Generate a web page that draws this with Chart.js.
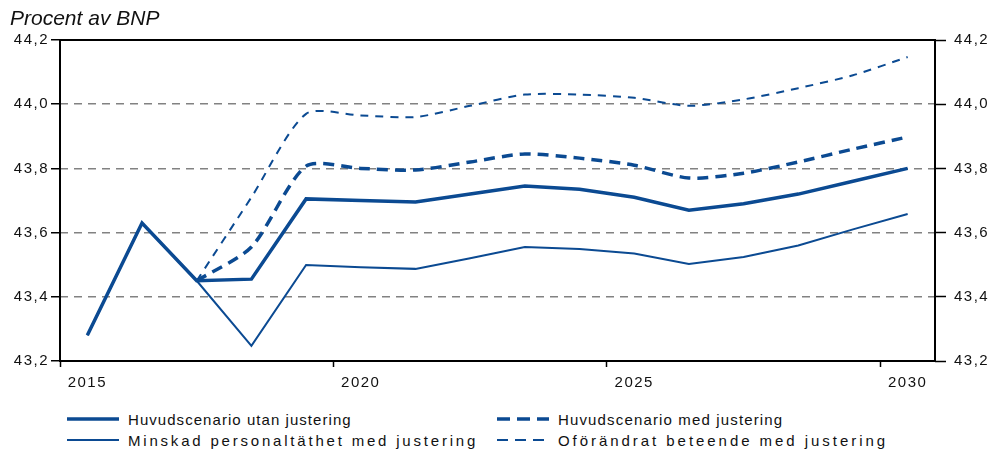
<!DOCTYPE html>
<html>
<head>
<meta charset="utf-8">
<script src="https://cdn.jsdelivr.net/npm/chart.js@4.4.1/dist/chart.umd.min.js"></script>
<style>
    body { margin: 0; background: #fff; font-family: "Liberation Sans", Arial, sans-serif; }
    #wrap { position: relative; width: 992px; height: 454px; }
    #title { position: absolute; left: 10px; top: 6px; font-size: 21px; font-style: italic; color: #111; }
    #chart-box { position: absolute; left: 0; top: 0; width: 992px; height: 400px; }
    .legend-item { position: absolute; display: flex; align-items: center; font-size: 15px; color: #111; white-space: nowrap; }
    .legend-item svg { margin-right: 9px; }
</style>
</head>
<body>
<div id="wrap">
    <div id="chart-box"><canvas id="chart"></canvas></div>
    <div id="title">Procent av BNP</div>
    <div id="legend"></div>
</div>
<script>
const BLUE = '#0b4a92';

const years = ['2015', '2016', '2017', '2018', '2019', '2020', '2021', '2022',
               '2023', '2024', '2025', '2026', '2027', '2028', '2029', '2030'];

const yTicks = [43.2, 43.4, 43.6, 43.8, 44.0, 44.2];

// Huvudscenario utan justering
const mainNoAdj = [43.28, 43.63, 43.45, 43.455, 43.705, 43.70, 43.695, 43.72,
                   43.745, 43.735, 43.71, 43.67, 43.69, 43.72, 43.76, 43.80];
// Huvudscenario med justering
const mainAdj = [null, null, 43.45, 43.555, 43.807, 43.80, 43.795, 43.82,
                 43.845, 43.832, 43.81, 43.77, 43.785, 43.82, 43.86, 43.898];
// Minskad personaltäthet med justering
const lowStaff = [43.28, 43.63, 43.45, 43.247, 43.499, 43.492, 43.487, 43.52,
                  43.555, 43.549, 43.535, 43.502, 43.524, 43.56, 43.61, 43.658];
// Oförändrat beteende med justering
const unchanged = [null, null, 43.45, 43.71, 43.97, 43.965, 43.96, 43.995,
                   44.03, 44.03, 44.02, 43.995, 44.015, 44.05, 44.09, 44.147];

const fmt = v => v.toFixed(1).replace('.', ',');

// wider letter spacing for the axis labels
const spacing = {
    id: 'spacing',
    beforeDraw(chart) { chart.ctx.letterSpacing = '1.5px'; },
    afterDraw(chart) { chart.ctx.letterSpacing = '0px'; }
};

// box around the plot area
const frame = {
    id: 'frame',
    afterDatasetsDraw(chart) {
        const a = chart.chartArea, ctx = chart.ctx;
        ctx.save();
        ctx.strokeStyle = '#000';
        ctx.lineWidth = 2;
        ctx.strokeRect(a.left, a.top, a.right - a.left, a.bottom - a.top);
        ctx.restore();
    }
};

const tickFont = { family: '"Liberation Sans", Arial, sans-serif', size: 15 };

new Chart(document.getElementById('chart'), {
    type: 'line',
    data: {
        labels: years,
        datasets: [
            { label: 'Huvudscenario utan justering', data: mainNoAdj, borderColor: BLUE, borderWidth: 3.5, tension: 0 },
            { label: 'Huvudscenario med justering', data: mainAdj, borderColor: BLUE, borderWidth: 3.5, borderDash: [11, 7], tension: 0.25 },
            { label: 'Minskad personaltäthet med justering', data: lowStaff, borderColor: BLUE, borderWidth: 2, tension: 0 },
            { label: 'Oförändrat beteende med justering', data: unchanged, borderColor: BLUE, borderWidth: 2, borderDash: [8, 7], tension: 0.25 }
        ]
    },
    options: {
        responsive: true,
        maintainAspectRatio: false,
        animation: false,
        events: [],
        layout: { padding: { top: 40, left: 0, right: 0, bottom: 0 } },
        elements: { point: { radius: 0 }, line: { borderCapStyle: 'butt', borderJoinStyle: 'miter' } },
        plugins: { legend: { display: false }, tooltip: { enabled: false } },
        scales: {
            x: {
                offset: true,
                border: { display: false },
                grid: {
                    offset: true,
                    drawOnChartArea: false,
                    tickLength: 6,
                    tickWidth: 1.5,
                    tickColor: ctx => (ctx.index % 5 === 0 ? '#000' : 'rgba(0,0,0,0)')
                },
                ticks: {
                    autoSkip: false,
                    maxRotation: 0,
                    color: '#111',
                    font: tickFont,
                    padding: 7,
                    callback: (v, i) => (i % 5 === 0 ? years[i] : '')
                },
                afterFit: s => { s.height = 39; }
            },
            y: {
                position: 'left',
                min: 43.2,
                max: 44.2,
                border: { display: false, dash: [8, 6] },
                grid: {
                    color: ctx => (ctx.tick.value > 43.25 && ctx.tick.value < 44.15 ? '#828282' : 'rgba(0,0,0,0)'),
                    lineWidth: 1.5,
                    tickColor: '#000',
                    tickLength: 9,
                    tickWidth: 1.5
                },
                afterBuildTicks: s => { s.ticks = yTicks.map(v => ({ value: v })); },
                ticks: { color: '#111', font: tickFont, padding: 2, callback: v => fmt(v) },
                afterFit: s => { s.width = 60; }
            },
            y2: {
                position: 'right',
                min: 43.2,
                max: 44.2,
                border: { display: false },
                grid: { drawOnChartArea: false, tickColor: '#000', tickLength: 11, tickWidth: 1.5 },
                afterBuildTicks: s => { s.ticks = yTicks.map(v => ({ value: v })); },
                ticks: { color: '#111', font: tickFont, padding: 8, callback: v => fmt(v) },
                afterFit: s => { s.width = 57; }
            }
        }
    },
    plugins: [spacing, frame]
});

// legend below the chart, two columns
const legendItems = [
    { text: 'Huvudscenario utan justering', x: 67, y: 410, w: 3.5, dash: null, spacing: 1.05 },
    { text: 'Huvudscenario med justering', x: 497, y: 410, w: 3.5, dash: '13 7', spacing: 1.15 },
    { text: 'Minskad personaltäthet med justering', x: 67, y: 431, w: 2, dash: null, spacing: 2.8 },
    { text: 'Oförändrat beteende med justering', x: 497, y: 431, w: 2, dash: '11 7', spacing: 2.95 }
];
const legend = document.getElementById('legend');
legendItems.forEach(item => {
    const div = document.createElement('div');
    div.className = 'legend-item';
    div.style.left = item.x + 'px';
    div.style.top = item.y + 'px';
    const dash = item.dash ? ` stroke-dasharray="${item.dash}"` : '';
    div.innerHTML = `<svg width="52" height="18"><line x1="0" y1="9" x2="52" y2="9" stroke="${BLUE}" stroke-width="${item.w}"${dash}/></svg>` +
        `<span style="letter-spacing:${item.spacing}px">${item.text}</span>`;
    legend.appendChild(div);
});
</script>
</body>
</html>
